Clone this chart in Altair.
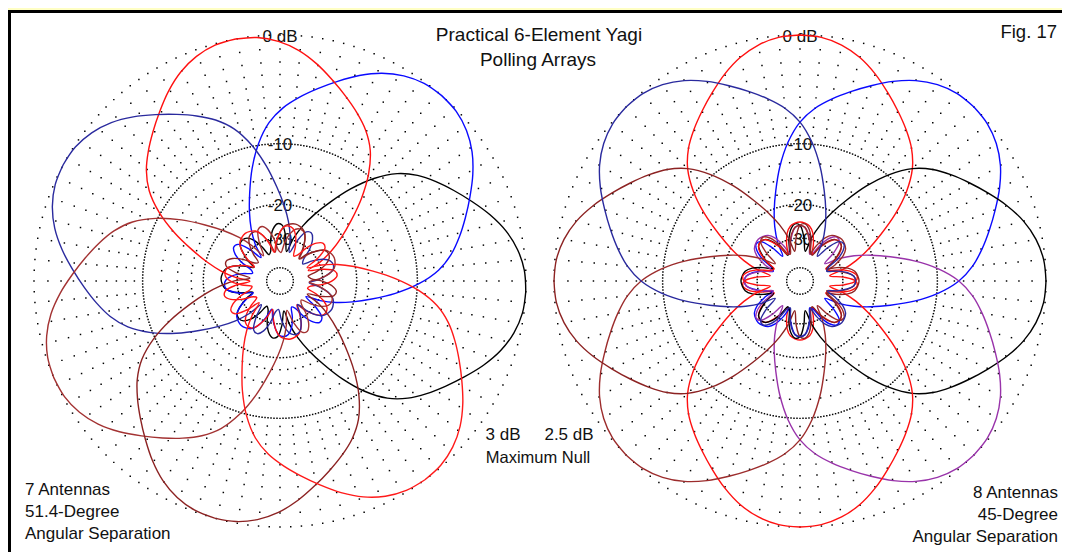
import math
import altair as alt
import pandas as pd

# ---------------- data ----------------
# one 6-element Yagi pattern: off-boresight angle (deg) -> relative gain (dB)
pattern_angle = [0, 5, 10, 15, 20, 25, 30, 35, 40, 45, 50, 55, 60, 65, 70, 75, 80, 85, 90,
                 95, 100, 105, 110, 115, 120, 125, 130, 135, 140, 145, 150, 155, 160, 165,
                 170, 175, 180]
pattern_db = [0.0, -0.1, -0.45, -1.05, -1.9, -2.9, -3.9, -4.9, -6.0, -7.5, -9.8, -12.9,
              -16.6, -20.3, -24.3, -29.3, -36.0, -29.5, -25.5, -25.0, -26.5, -30.0, -35.5,
              -37.0, -32.0, -28.0, -26.0, -25.5, -26.0, -28.5, -32.0, -36.5, -31.5, -27.5,
              -25.5, -24.8, -24.5]

# antenna bearings (deg, clockwise from top) of the two polling arrays
left_bearings = [92.5, 41.1, -10.4, -61.8, -113.2, -164.6, 143.9]
right_bearings = [0.0, 45.0, 90.0, 135.0, 180.0, 225.0, 270.0, 315.0]

# grid rings (dB)
grid_ring_db = [0, -1, -2, -3, -4, -5, -6, -7, -8, -9, -10, -12.5, -15, -17.5, -20, -30, -50]
ring_label_db = [0, -10, -20, -30]
ring_labels = ["0 dB", "-10", "-20", "-30"]

title_lines = ["Practical 6-Element Yagi", "Polling Arrays"]
fig_label = "Fig. 17"
null_labels = ["3 dB", "2.5 dB"]
null_caption = "Maximum Null"
left_notes = ["7 Antennas", "51.4-Degree", "Angular Separation"]
right_notes = ["8 Antennas", "45-Degree", "Angular Separation"]

# ---------------- layout / style ----------------
W, H = 1054, 544
X0, Y0 = 8, 8                      # page offset of the chart
CENTERS = [(280.0, 281.0), (800.0, 281.0)]
R = 246.0
left_colors = ["#000000", "#0a0aff", "#ff1010", "#2a2a9e", "#a33232", "#8c2222", "#ff1a1a"]
right_colors = ["#ff1010", "#0a0aff", "#000000", "#9933aa", "#ff1010", "#9c2c2c", "#8c2222", "#2a2a9e"]
ring_step = {0: 2.5, -10: 1.25, -20: 2.5, -30: 4.0, -50: 12.0}
FONT = "Liberation Sans"


def radius(db):
    db = max(db, -50.0)
    return R * 0.89 ** (-db / 2.0)


def polar_xy(center, bearing, db):
    cx, cy = center
    r = radius(db)
    a = math.radians(bearing)
    return cx + r * math.sin(a), cy - r * math.cos(a)


# pattern lines
rows = []
order_names, order_colors = [], []
for pi, (bearings, colors) in enumerate([(left_bearings, left_colors), (right_bearings, right_colors)]):
    for ai, (b, col) in enumerate(zip(bearings, colors)):
        name = f"p{pi}a{ai}"
        order_names.append(name)
        order_colors.append(col)
        k = 0
        for phi in range(0, 365, 5):
            ph = phi % 360
            off = min(ph, 360 - ph)
            db = pattern_db[pattern_angle.index(off)]
            x, y = polar_xy(CENTERS[pi], b + phi, db)
            rows.append({"s": name, "i": k, "x": x, "y": y})
            k += 1
lines_df = pd.DataFrame(rows)

# grid dots
grows = []
for c in CENTERS:
    grows.append({"x": c[0], "y": c[1]})
    for db in grid_ring_db:
        step = ring_step.get(db, 5.0)
        n = int(round(360 / step))
        for j in range(n):
            x, y = polar_xy(c, j * step, db)
            grows.append({"x": x, "y": y})
grid_df = pd.DataFrame(grows)

# texts
center_txt, left_txt, right_txt = [], [], []
for c in CENTERS:
    for lab, db in zip(ring_labels, ring_label_db):
        center_txt.append({"t": lab, "x": c[0], "y": c[1] - radius(db) + 1.5, "fs": 17})
center_txt.append({"t": title_lines[0], "x": 539, "y": 35, "fs": 19})
center_txt.append({"t": title_lines[1], "x": 538, "y": 60, "fs": 19})
center_txt.append({"t": null_labels[0], "x": 503, "y": 435, "fs": 17})
center_txt.append({"t": null_labels[1], "x": 569, "y": 435, "fs": 17})
center_txt.append({"t": null_caption, "x": 538, "y": 458, "fs": 16.5})
for j, t in enumerate(left_notes):
    left_txt.append({"t": t, "x": 25, "y": 490 + 22 * j, "fs": 17})
for j, t in enumerate(right_notes):
    right_txt.append({"t": t, "x": 1058, "y": 493 + 22 * j, "fs": 17})
right_txt.append({"t": fig_label, "x": 1057, "y": 32, "fs": 18.5})

xs = alt.Scale(domain=[X0, X0 + W], nice=False, zero=False)
ys = alt.Scale(domain=[Y0, Y0 + H], nice=False, zero=False, reverse=True)

frame = alt.Chart(pd.DataFrame({"a": [0]})).mark_rect(
    fill="white", stroke="black", strokeWidth=3
).encode(x=alt.value(1.5), x2=alt.value(W + 20), y=alt.value(3.5), y2=alt.value(H + 20))

grid = alt.Chart(grid_df).mark_square(size=2.2, color="#000000", opacity=1).encode(
    x=alt.X("x:Q", scale=xs, axis=None), y=alt.Y("y:Q", scale=ys, axis=None)
)


def text_layer(data, align):
    return alt.Chart(pd.DataFrame(data)).mark_text(
        align=align, baseline="middle", font=FONT, color="#111111"
    ).encode(
        x=alt.X("x:Q", scale=xs, axis=None),
        y=alt.Y("y:Q", scale=ys, axis=None),
        text="t:N",
        size=alt.Size("fs:Q", scale=None),
    )


lines = alt.Chart(lines_df).mark_line(strokeWidth=1.4, interpolate="catmull-rom").encode(
    x=alt.X("x:Q", scale=xs, axis=None),
    y=alt.Y("y:Q", scale=ys, axis=None),
    detail="s:N",
    order=alt.Order("i:Q"),
    color=alt.Color("s:N", scale=alt.Scale(domain=order_names, range=order_colors), legend=None),
)

chart = alt.layer(
    frame, grid, text_layer(center_txt, "center"), text_layer(left_txt, "left"),
    text_layer(right_txt, "right"), lines
).properties(
    width=W, height=H, padding=0, background="#ffffc4",
    autosize=alt.AutoSizeParams(type="none"),
).configure_view(stroke=None)

chart.save("out.html", embed_options={"renderer": "svg", "actions": False})
